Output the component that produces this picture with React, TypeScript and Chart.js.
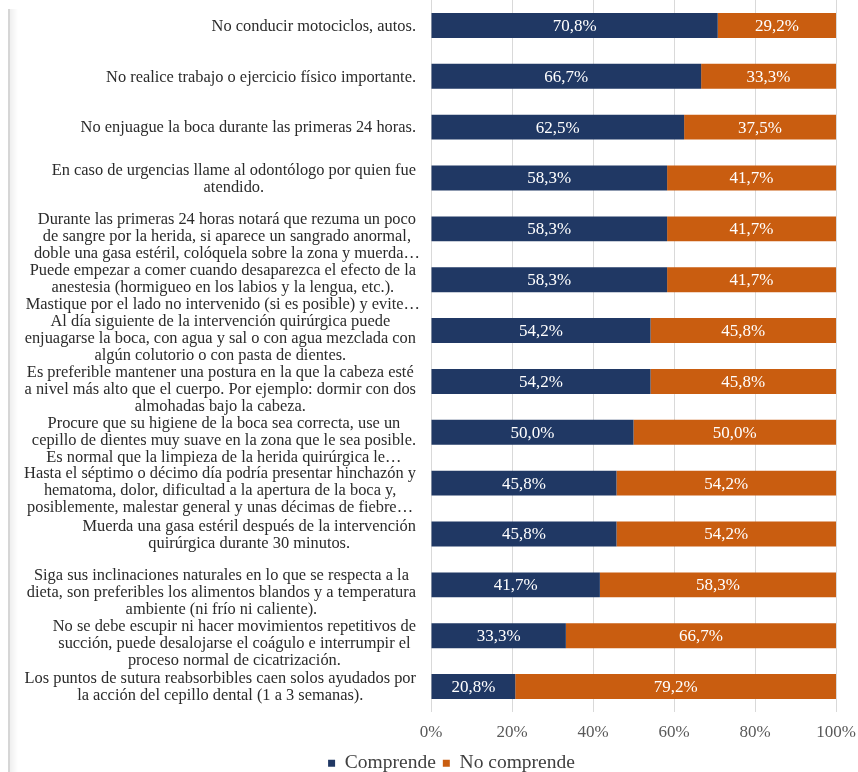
import React, { useEffect, useRef } from 'react';
import { Chart, registerables } from 'chart.js';

Chart.register(...registerables);

const categories: string[][] = [
  ['No conducir motociclos, autos.'],
  ['No realice trabajo o ejercicio físico importante.'],
  ['No enjuague la boca durante las primeras 24 horas.'],
  ['En caso de urgencias llame al odontólogo por quien fue', 'atendido.'],
  ['Durante las primeras 24 horas notará que rezuma un poco', 'de sangre por la herida, si aparece un sangrado anormal,', 'doble una gasa estéril, colóquela sobre la zona y muerda…'],
  ['Puede empezar a comer cuando desaparezca el efecto de la', 'anestesia (hormigueo en los labios y la lengua, etc.).', 'Mastique por el lado no intervenido (si es posible) y evite…'],
  ['Al día siguiente de la intervención quirúrgica puede', 'enjuagarse la boca, con agua y sal o con agua mezclada con', 'algún colutorio o con pasta de dientes.'],
  ['Es preferible mantener una postura en la que la cabeza esté', 'a nivel más alto que el cuerpo. Por ejemplo: dormir con dos', 'almohadas bajo la cabeza.'],
  ['Procure que su higiene de la boca sea correcta, use un', 'cepillo de dientes muy suave en la zona que le sea posible.', 'Es normal que la limpieza de la herida quirúrgica le…'],
  ['Hasta el séptimo o décimo día podría presentar hinchazón y', 'hematoma, dolor, dificultad a la apertura de la boca y,', 'posiblemente, malestar general y unas décimas de fiebre…'],
  ['Muerda una gasa estéril después de la intervención', 'quirúrgica durante 30 minutos.'],
  ['Siga sus inclinaciones naturales en lo que se respecta a la', 'dieta, son preferibles los alimentos blandos y a temperatura', 'ambiente (ni frío ni caliente).'],
  ['No se debe escupir ni hacer movimientos repetitivos de', 'succión, puede desalojarse el coágulo e interrumpir el', 'proceso normal de cicatrización.'],
  ['Los puntos de sutura reabsorbibles caen solos ayudados por', 'la acción del cepillo dental (1 a 3 semanas).'],
];

const comprende = [70.8, 66.7, 62.5, 58.3, 58.3, 58.3, 54.2, 54.2, 50.0, 45.8, 45.8, 41.7, 33.3, 20.8];
const noComprende = [29.2, 33.3, 37.5, 41.7, 41.7, 41.7, 45.8, 45.8, 50.0, 54.2, 54.2, 58.3, 66.7, 79.2];
const seriesNames = ['Comprende', 'No comprende'];
const xTickValues = [0, 20, 40, 60, 80, 100];

const NAVY = '#203864';
const ORANGE = '#C95D10';
const SERIF = '"Liberation Serif", "Times New Roman", serif';

export default function App() {
  const ref = useRef<HTMLCanvasElement>(null);

  useEffect(() => {
    if (!ref.current) return;

    const catLabels = {
      id: 'catLabels',
      afterDraw(chart: any) {
        const ctx = chart.ctx;
        const y = chart.scales.y;
        ctx.save();
        ctx.font = '16.4px ' + SERIF;
        ctx.fillStyle = '#2b2b2b';
        ctx.textAlign = 'center';
        ctx.textBaseline = 'middle';
        const R = 416;
        const LH = 17;
        categories.forEach((lines, i) => {
          const cy = y.getPixelForValue(i) + (lines.length >= 3 ? 8 : 1);
          const bw = Math.max(...lines.map((l) => ctx.measureText(l.replace(/…$/, '')).width));
          const cx = R - bw / 2;
          lines.forEach((l, j) => {
            ctx.fillText(l, cx, cy + (j - (lines.length - 1) / 2) * LH);
          });
        });
        ctx.restore();
      },
    };

    const dataLabels = {
      id: 'dataLabels',
      afterDatasetsDraw(chart: any) {
        const ctx = chart.ctx;
        ctx.save();
        ctx.font = '17px ' + SERIF;
        ctx.fillStyle = '#ffffff';
        ctx.textAlign = 'center';
        ctx.textBaseline = 'middle';
        chart.data.datasets.forEach((ds: any, di: number) => {
          const meta = chart.getDatasetMeta(di);
          meta.data.forEach((el: any, i: number) => {
            const v = ds.data[i] as number;
            const txt = v.toFixed(1).replace('.', ',') + '%';
            ctx.fillText(txt, (el.x + el.base) / 2, el.y + 1);
          });
        });
        ctx.restore();
      },
    };

    const chart = new Chart(ref.current, {
      type: 'bar',
      data: {
        labels: categories.map((c) => c.join(' ')),
        datasets: [
          {
            label: seriesNames[0],
            data: comprende,
            backgroundColor: NAVY,
            categoryPercentage: 1,
            barPercentage: 0.49,
          },
          {
            label: seriesNames[1],
            data: noComprende,
            backgroundColor: ORANGE,
            categoryPercentage: 1,
            barPercentage: 0.49,
          },
        ],
      },
      options: {
        indexAxis: 'y',
        animation: false,
        responsive: false,
        layout: { padding: { left: 67, right: 22, top: 0, bottom: 0 } },
        scales: {
          x: {
            stacked: true,
            min: 0,
            max: 100,
            afterBuildTicks: (scale: any) => {
              scale.ticks = xTickValues.map((v) => ({ value: v }));
            },
            afterFit: (scale: any) => {
              scale.height = 34.5;
              scale.paddingLeft = 0;
              scale.paddingRight = 0;
            },
            ticks: {
              padding: 10,
              color: '#595959',
              font: { family: SERIF, size: 17 },
              callback: (v: any) => v + '%',
            },
            grid: { color: '#d9d9d9', drawTicks: false },
            border: { display: false },
          },
          y: {
            stacked: true,
            afterFit: (scale: any) => {
              scale.width = 364;
              scale.paddingTop = 0;
              scale.paddingBottom = 0;
            },
            ticks: { display: false },
            grid: { display: false },
            border: { display: false },
          },
        },
        plugins: {
          legend: {
            position: 'bottom',
            labels: {
              boxWidth: 7,
              boxHeight: 7,
              padding: 7,
              color: '#404040',
              font: { family: SERIF, size: 19.5 },
            },
          },
          tooltip: { enabled: false },
        },
      },
      plugins: [catLabels, dataLabels],
    });

    return () => chart.destroy();
  }, []);

  return (
    <div style={{ position: 'absolute', left: 0, top: 0, width: 858, height: 772, overflow: 'hidden', background: '#fff' }}>
      <div style={{ position: 'absolute', left: 8, top: 9, width: 2, height: 763, background: '#d6d6d6' }} />
      <div style={{ position: 'absolute', left: 10, top: 9, width: 8, height: 763, background: 'linear-gradient(to right, #efefef, #ffffff)' }} />
      <canvas ref={ref} width={858} height={783} style={{ position: 'absolute', left: 0, top: 0, display: 'block' }} />
    </div>
  );
}
